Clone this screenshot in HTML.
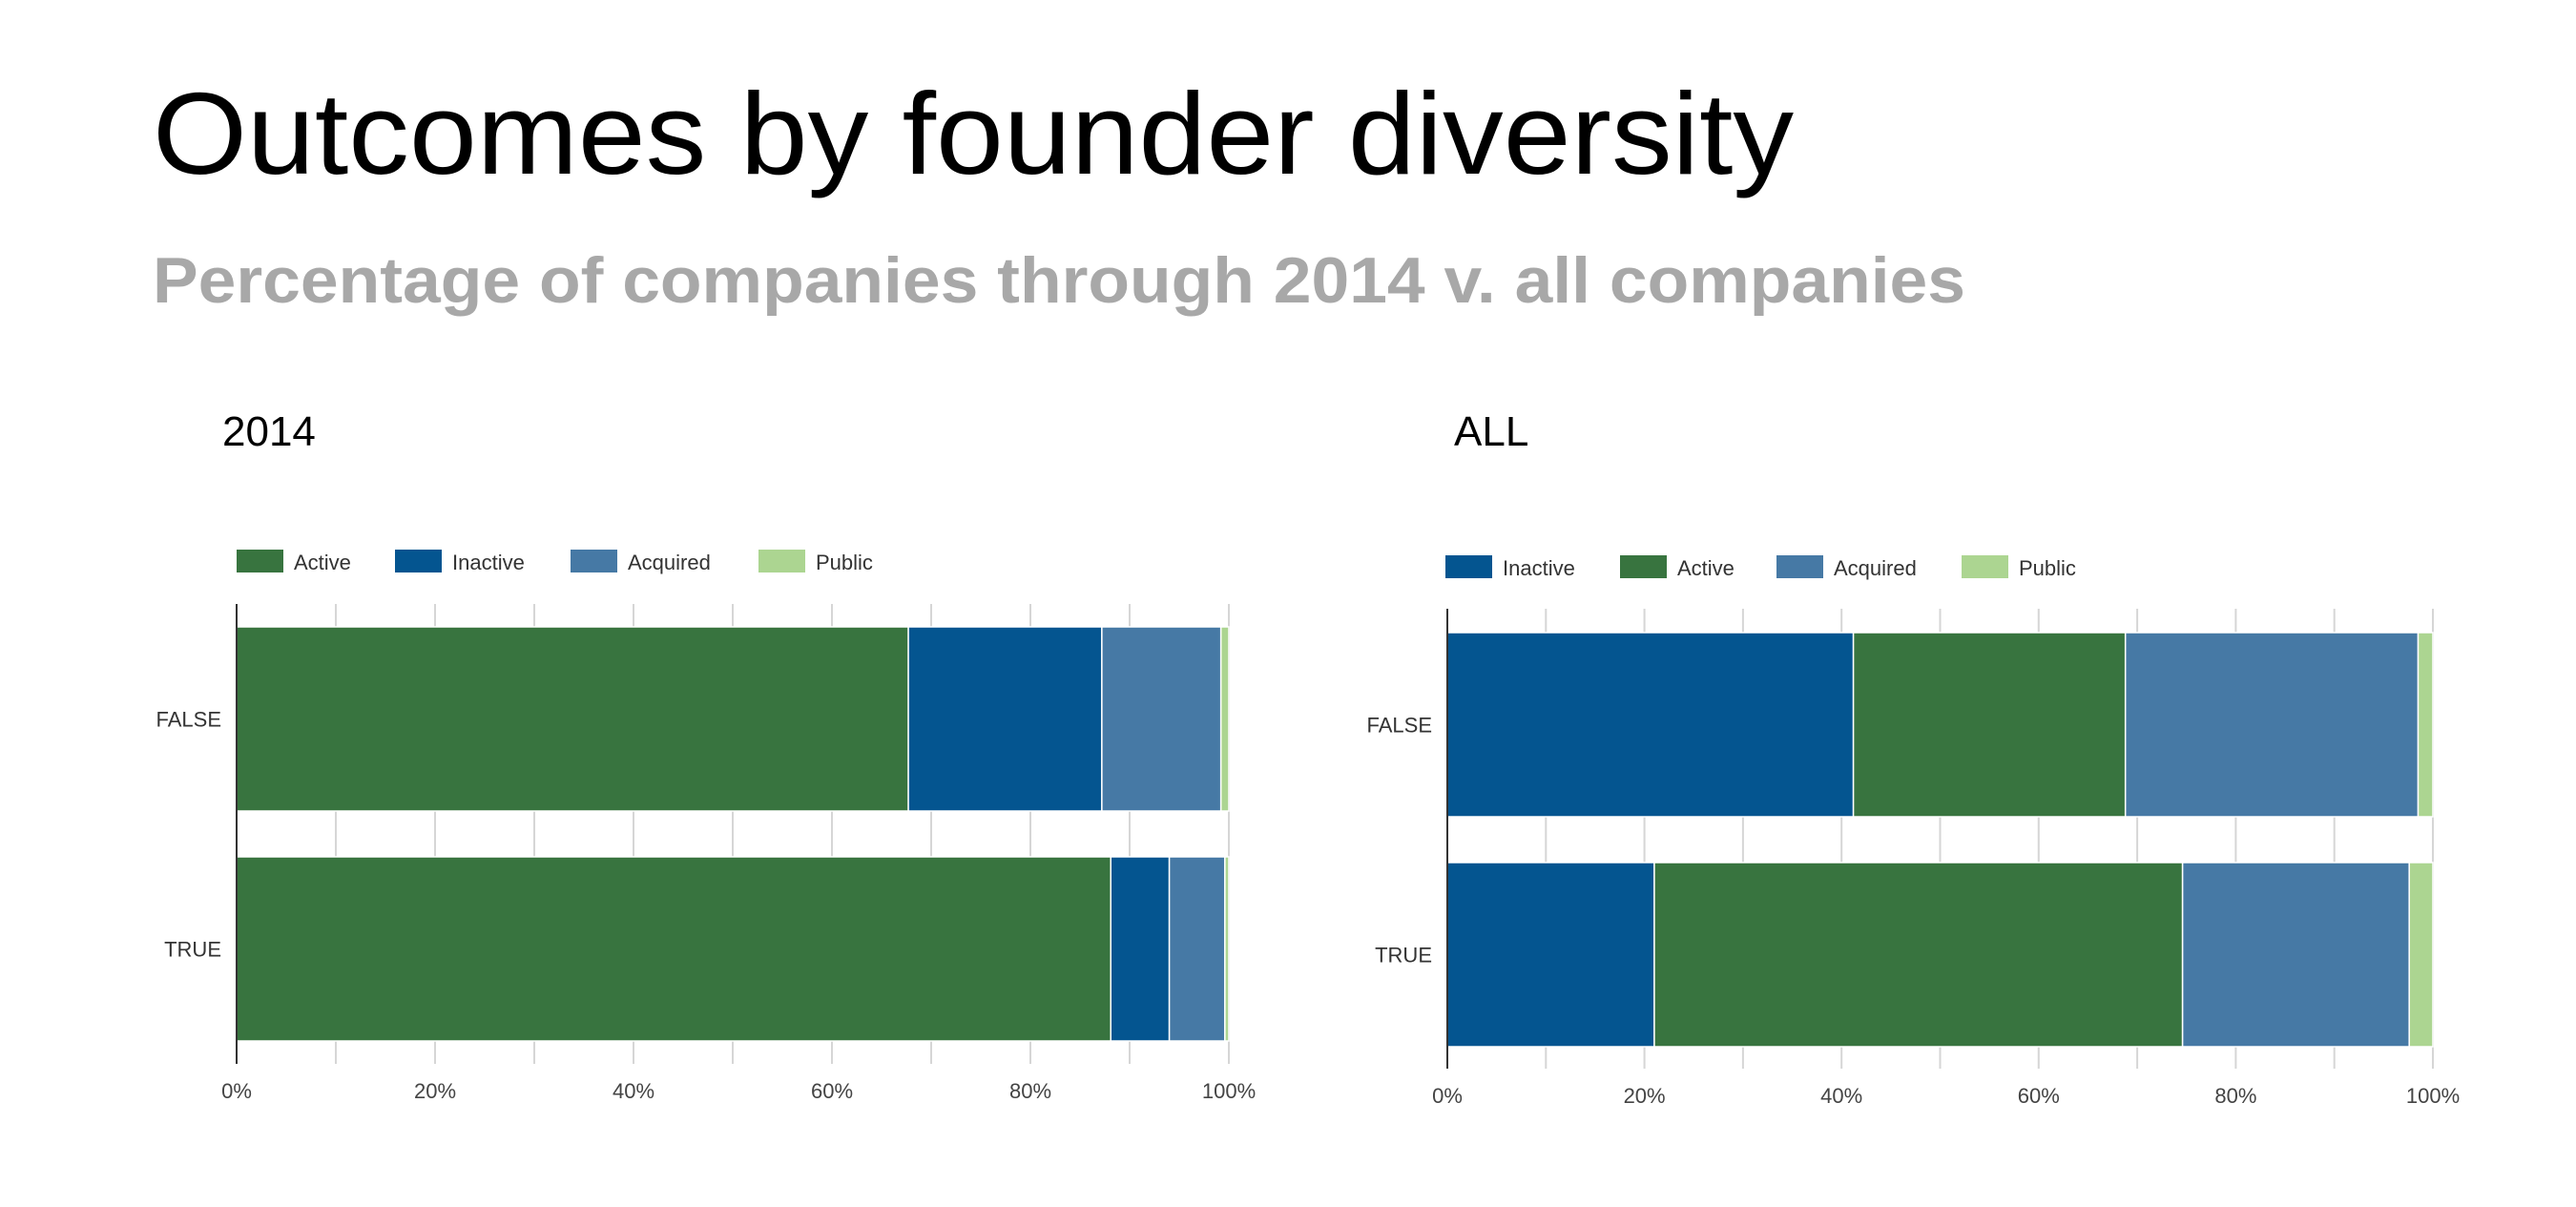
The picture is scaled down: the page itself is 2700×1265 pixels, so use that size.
<!DOCTYPE html>
<html><head><meta charset="utf-8"><style>
html,body{margin:0;padding:0;background:#fff;}
svg{display:block;}
</style></head><body>
<svg id="root" width="2700" height="1265" viewBox="0 0 2700 1265" xmlns="http://www.w3.org/2000/svg" font-family="Liberation Sans, sans-serif">
<text x="160" y="182" font-size="122" fill="#000" textLength="1720" lengthAdjust="spacingAndGlyphs">Outcomes by founder diversity</text>
<text x="160" y="317" font-size="68" font-weight="bold" fill="#a8a8a8" textLength="1900" lengthAdjust="spacingAndGlyphs">Percentage of companies through 2014 v. all companies</text>
<text x="233" y="467" font-size="44" fill="#000">2014</text>
<text x="1524" y="467" font-size="44" fill="#000">ALL</text>
<g id="p1"></g>
<g id="p2"></g>
</svg>
<script>
const categories = ["FALSE", "TRUE"];
const ticks = [0, 20, 40, 60, 80, 100];
const colors = {Active:"#38743f", Inactive:"#045590", Acquired:"#4679a5", Public:"#acd591"};
// Panel 2014
const series1 = ["Active", "Inactive", "Acquired", "Public"];
const active1 = [67.7, 88.1];
const inactive1 = [19.5, 5.9];
const acquired1 = [12.0, 5.6];
const public1 = [0.8, 0.4];
// Panel ALL
const series2 = ["Inactive", "Active", "Acquired", "Public"];
const inactive2 = [41.2, 21.0];
const active2 = [27.6, 53.6];
const acquired2 = [29.7, 23.0];
const public2 = [1.5, 2.4];

const NS = "http://www.w3.org/2000/svg";
function mk(tag, attrs, parent){const e=document.createElementNS(NS,tag);for(const k in attrs)e.setAttribute(k,attrs[k]);parent.appendChild(e);return e;}

function drawPanel(g, cfg, series, values){
  const x = v => cfg.x0 + v/100*cfg.w;
  // gridlines
  for(let i=1;i<=10;i++){
    const l = mk("line",{x1:x(i*10),x2:x(i*10),y1:cfg.top,y2:cfg.bottom,stroke:"#d6d6d6","stroke-width":2},g);
    
    
  }
  // bars
  categories.forEach((c,ci)=>{
    let acc=0;
    series.forEach((s,si)=>{
      const v = values[si][ci];
      const r = mk("rect",{x:x(acc),y:cfg.barY[ci],width:x(acc+v)-x(acc),height:cfg.barH,fill:colors[s],stroke:"#fff","stroke-width":1.5},g);
      
      
      acc+=v;
    });
    const t = mk("text",{x:cfg.x0-16,y:cfg.barY[ci]+cfg.barH/2+8,"text-anchor":"end","font-size":22,fill:"#333"},g);
    t.textContent=c;
    
    
  });
  // axis
  const ax = mk("line",{x1:cfg.x0,x2:cfg.x0,y1:cfg.top,y2:cfg.bottom,stroke:"#333","stroke-width":2},g);
  
  
  ticks.forEach(tv=>{
    const t = mk("text",{x:x(tv),y:cfg.bottom+36,"text-anchor":"middle","font-size":22,fill:"#444"},g);
    t.textContent=tv+"%";
    
    
  });
  // legend
  series.forEach((s,si)=>{
    const sw = mk("rect",{x:cfg.legX[si],y:cfg.legY,width:49,height:24,fill:colors[s]},g);
    
    
    const t = mk("text",{x:cfg.legX[si]+60,y:cfg.legY+21,"font-size":22,fill:"#333"},g);
    t.textContent=s;
    
    
  });
}
drawPanel(document.getElementById('p1'),
  {x0:248,w:1040,top:633,bottom:1115,barY:[657,898],barH:193,legY:576,legX:[248,414,598,795]},
  series1,[active1,inactive1,acquired1,public1]);
drawPanel(document.getElementById('p2'),
  {x0:1517,w:1033,top:638,bottom:1120,barY:[663,904],barH:193,legY:582,legX:[1515,1698,1862,2056]},
  series2,[inactive2,active2,acquired2,public2]);
</script>
</body></html>
